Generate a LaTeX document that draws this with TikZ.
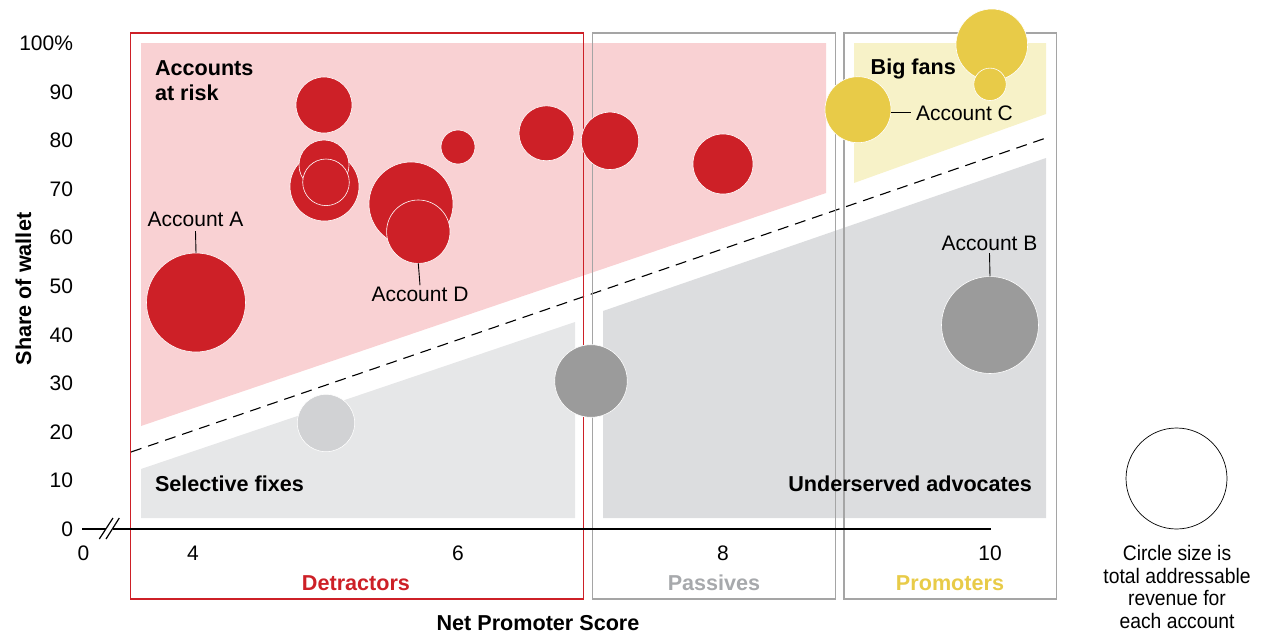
\documentclass[tikz,border=0pt]{standalone}
\usepackage{fontspec}
\setmainfont{Liberation Sans}
\definecolor{bred}{HTML}{CD2027}
\definecolor{pinkbg}{HTML}{F9D1D3}
\definecolor{lgraybg}{HTML}{E6E7E8}
\definecolor{graybg}{HTML}{DCDDDF}
\definecolor{yelbg}{HTML}{F7F2C8}
\definecolor{byel}{HTML}{E8CB48}
\definecolor{bgray}{HTML}{9B9B9B}
\definecolor{blgray}{HTML}{D1D2D4}
\definecolor{boxgray}{HTML}{A5A5A5}
\definecolor{passgray}{HTML}{A7A9AC}
\begin{document}
\begin{tikzpicture}[x=1pt,y=-1pt,
  txt/.style={font=\fontsize{21}{25}\selectfont, inner sep=0pt, outer sep=0pt},
  btxt/.style={txt, font=\fontsize{21.6}{25}\selectfont\bfseries},
  bub/.style={circle, inner sep=0pt, outer sep=0pt, draw=white, line width=0.6pt},
  lead/.style={line width=0.9pt},
  framebox/.style={line width=1.1pt},
  axisline/.style={line width=2.9pt}]
\useasboundingbox (0,0) rectangle (1272,637);
% shaded regions
\fill[pinkbg] (141,43) -- (826,43) -- (826,193) -- (141,426) -- cycle;
\fill[lgraybg] (141,518) -- (141,469) -- (575,322) -- (575,518) -- cycle;
\fill[graybg] (603,518) -- (603,311) -- (1046,158) -- (1046,518) -- cycle;
\fill[yelbg] (854,43) -- (1046,43) -- (1046,114) -- (854,183) -- cycle;
% dashed divider
\draw[line width=1.1pt, dash pattern=on 11pt off 7pt] (131,452) -- (1046,138);
% category frames
\draw[framebox, bred] (130.5,33) rectangle (583.3,599);
\draw[framebox, boxgray] (592.7,33) rectangle (835.5,599);
\draw[framebox, boxgray] (844,33) rectangle (1056.5,599);
% x axis with break
\draw[axisline] (82,529) -- (106,529);
\draw[axisline] (112.7,529) -- (991,529);
\draw[line width=1.2pt] (99.3,539) -- (113,518);
\draw[line width=1.2pt] (106,539) -- (119.3,518);
% bubbles
\node[bub, fill=bred, minimum size=56pt] (r1) at (324,105) {};
\node[bub, fill=bred, minimum size=69pt] (r2) at (324.5,186.5) {};
\node[bub, fill=bred, minimum size=50pt] (r3) at (324,165) {};
\node[bub, fill=bred, minimum size=46.6pt] (r4) at (326,182.3) {};
\node[bub, fill=bred, minimum size=84pt] (r5) at (411,204) {};
\node[bub, fill=bred, minimum size=63.4pt] (bubD) at (418.3,231.7) {};
\node[bub, fill=bred, minimum size=99pt] (bubA) at (196,302.5) {};
\node[bub, fill=bred, minimum size=34pt] (r6) at (458,147) {};
\node[bub, fill=bred, minimum size=55pt] (r7) at (546.5,133.3) {};
\node[bub, fill=bred, minimum size=57.4pt] (r8) at (610,140.8) {};
\node[bub, fill=bred, minimum size=60pt] (r9) at (723,164) {};
\node[bub, fill=blgray, minimum size=57.4pt] (g1) at (326,423) {};
\node[bub, fill=bgray, minimum size=72.6pt] (g2) at (591,381) {};
\node[bub, fill=bgray, minimum size=97pt] (bubB) at (990,325) {};
\node[bub, fill=byel, minimum size=71.6pt] (y1) at (991.8,44.8) {};
\node[bub, fill=byel, minimum size=32.4pt] (y2) at (990,84.3) {};
\node[bub, fill=byel, minimum size=66pt] (bubC) at (858,109.7) {};
% legend circle
\node[circle, inner sep=0pt, draw=black, line width=0.7pt, minimum size=101pt] (legc) at (1176.5,478.5) {};
% y tick labels
\foreach \v in {0,10,...,90}
  \node[txt, anchor=base east] (yt\v) at (73,{536.5-4.86*\v}) {\v};
\node[txt, anchor=base east] (yt100) at (73,50.5) {100\%};
% x tick labels
\node[txt, anchor=base] (xt0) at (83.5,560.5) {0};
\node[txt, anchor=base] (xt4) at (193,560.5) {4};
\node[txt, anchor=base] (xt6) at (458,560.5) {6};
\node[txt, anchor=base] (xt8) at (723,560.5) {8};
\node[txt, anchor=base] (xt10) at (990,560.5) {10};
% category labels
\node[btxt, anchor=base, text=bred] (detr) at (356,590) {Detractors};
\node[btxt, anchor=base, text=passgray] (pass) at (714,590) {Passives};
\node[btxt, anchor=base, text=byel] (prom) at (950,590) {Promoters};
% axis titles
\node[btxt, anchor=base] (xtitle) at (538,630.7) {Net Promoter Score};
\node[btxt, anchor=base, rotate=90] (ytitle) at (31,289) {Share of wallet};
% region labels
\node[btxt, anchor=base west] (risk1) at (155,75) {Accounts};
\node[btxt, anchor=base west] (risk2) at (155,100.7) {at risk};
\node[btxt, anchor=base west] (fans) at (870.7,74) {Big fans};
\node[btxt, anchor=base west] (fixes) at (155,491.7) {Selective fixes};
\node[btxt, anchor=base east] (advoc) at (1032,491.7) {Underserved advocates};
% account labels
\node[txt, anchor=base] (labA) at (195.5,226) {Account A};
\node[txt, anchor=base] (labD) at (420,301.7) {Account D};
\node[txt, anchor=base] (labB) at (989.5,250) {Account B};
\node[txt, anchor=base west] (labC) at (916,120) {Account C};
\draw[lead] ([yshift=-5pt]labA.south) -- (bubA.north);
\draw[lead] (bubD.south) -- ([yshift=2pt]labD.north);
\draw[lead] ([yshift=-3pt]labB.south) -- (bubB.north);
\draw[lead] (bubC.east |- labC.west) -- ([xshift=-5pt]labC.west);
% legend text
\node[txt, anchor=base, xscale=0.92] (leg1) at (1177,560) {Circle size is};
\node[txt, anchor=base, xscale=0.92] (leg2) at (1177,583) {total addressable};
\node[txt, anchor=base, xscale=0.92] (leg3) at (1177,605.5) {revenue for};
\node[txt, anchor=base, xscale=0.92] (leg4) at (1177,628) {each account};
\end{tikzpicture}
\end{document}
